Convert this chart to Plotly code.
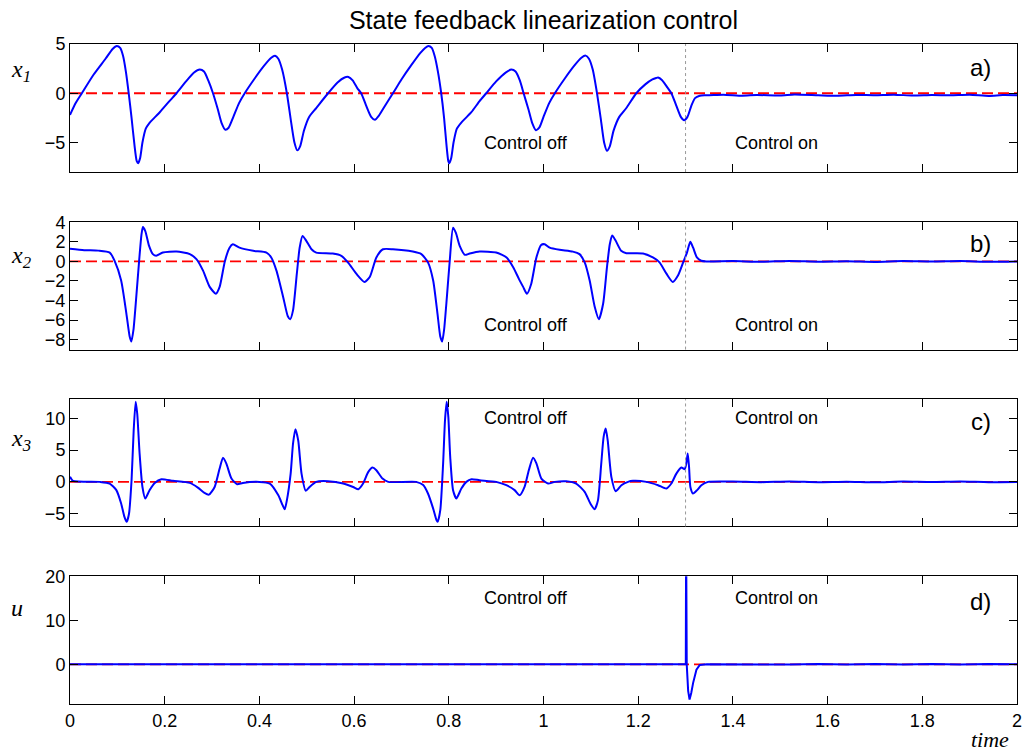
import plotly.graph_objects as go

# ---------------- data ----------------
t_x1 = [0, 0.012, 0.025, 0.05, 0.075, 0.09, 0.099, 0.106, 0.112, 0.118, 0.124, 0.13, 0.136, 0.141, 0.144,
        0.148, 0.153, 0.16, 0.168, 0.178, 0.19, 0.21, 0.225, 0.245, 0.262, 0.274, 0.283, 0.292, 0.302, 0.312,
        0.32, 0.328, 0.335, 0.345, 0.357, 0.369, 0.39, 0.41, 0.425, 0.433, 0.44, 0.448, 0.458, 0.466, 0.474,
        0.48, 0.486, 0.494, 0.505, 0.52, 0.545, 0.565, 0.58, 0.588, 0.597, 0.607, 0.615, 0.625, 0.636, 0.644,
        0.652, 0.665, 0.682, 0.7, 0.72, 0.74, 0.75, 0.757, 0.764, 0.77, 0.777, 0.784, 0.79, 0.795, 0.799,
        0.801, 0.805, 0.81, 0.817, 0.826, 0.836, 0.848, 0.865, 0.879, 0.9, 0.92, 0.932, 0.941, 0.95, 0.958,
        0.968, 0.976, 0.984, 0.991, 1.0, 1.012, 1.024, 1.045, 1.065, 1.08, 1.089, 1.096, 1.104, 1.113, 1.121,
        1.128, 1.134, 1.14, 1.148, 1.16, 1.175, 1.196, 1.215, 1.23, 1.238, 1.242, 1.25, 1.26, 1.27, 1.28,
        1.29, 1.297, 1.304, 1.312, 1.32, 1.33, 1.34, 1.35, 1.38, 1.42, 1.45, 1.5, 1.53, 1.58, 1.62, 1.66,
        1.7, 1.74, 1.78, 1.82, 1.86, 1.9, 1.94, 1.97, 2.0]
x1 = [-2.2, -1.0, 0.0, 1.9, 3.5, 4.5, 4.8, 4.6, 3.8, 2.2, 0.0, -2.5, -5.2, -6.9, -7.1,
      -6.6, -5.0, -3.6, -3.0, -2.5, -1.9, -0.8, 0.0, 1.2, 2.1, 2.4, 2.2, 1.3, 0.0, -1.6,
      -3.0, -3.7, -3.5, -2.4, -1.0, 0.0, 1.5, 2.8, 3.6, 3.8, 3.5, 2.4, 0.0, -2.6, -5.0,
      -5.8, -5.4, -3.8, -2.4, -1.5, 0.0, 1.1, 1.6, 1.65, 1.3, 0.5, 0.0, -1.2, -2.4, -2.7,
      -2.3, -1.3, 0.0, 1.4, 2.8, 4.1, 4.6, 4.8, 4.6, 3.8, 2.2, 0.0, -2.5, -5.2, -6.9,
      -7.1, -6.6, -5.0, -3.6, -3.0, -2.5, -1.9, -0.8, 0.0, 1.2, 2.1, 2.4, 2.2, 1.3, 0.0,
      -1.6, -3.0, -3.75, -3.5, -2.4, -1.0, 0.0, 1.5, 2.8, 3.6, 3.82, 3.5, 2.4, 0.0, -2.6,
      -5.0, -5.84, -5.4, -3.8, -2.4, -1.5, 0.0, 0.9, 1.4, 1.55, 1.6, 1.35, 0.7, 0.0, -1.2,
      -2.4, -2.74, -2.4, -1.3, -0.5, -0.25, -0.2, -0.2, -0.15, -0.25, -0.18, -0.22, -0.12, -0.2, -0.26, -0.17,
      -0.2, -0.14, -0.24, -0.19, -0.21, -0.15, -0.27, -0.18, -0.2]

t_x2 = [0, 0.03, 0.06, 0.084, 0.094, 0.108, 0.119, 0.126, 0.1296, 0.134, 0.14, 0.146, 0.151, 0.154, 0.159,
        0.167, 0.175, 0.182, 0.196, 0.225, 0.253, 0.267, 0.281, 0.295, 0.308, 0.316, 0.327, 0.337, 0.344,
        0.358, 0.387, 0.415, 0.425, 0.436, 0.45, 0.46, 0.465, 0.471, 0.479, 0.485, 0.491, 0.499, 0.51, 0.52,
        0.555, 0.573, 0.587, 0.605, 0.622, 0.633, 0.647, 0.661, 0.682, 0.724, 0.742, 0.756, 0.767, 0.776,
        0.782, 0.786, 0.79, 0.796, 0.802, 0.809, 0.815, 0.823, 0.834, 0.844, 0.865, 0.9, 0.922, 0.936, 0.948,
        0.957, 0.965, 0.974, 0.985, 0.995, 1.0025, 1.013, 1.034, 1.062, 1.076, 1.087, 1.0975, 1.108, 1.117,
        1.126, 1.134, 1.14, 1.145, 1.152, 1.164, 1.175, 1.21, 1.231, 1.245, 1.26, 1.273, 1.284, 1.295, 1.303,
        1.31, 1.316, 1.324, 1.333, 1.344, 1.4, 1.46, 1.52, 1.58, 1.64, 1.7, 1.76, 1.82, 1.88, 1.94, 2.0]
x2 = [1.3, 1.15, 1.1, 0.9, 0.07, -1.95, -5.3, -7.66, -8.17, -7.0, -3.6, 0.07, 2.76, 3.5, 3.1,
      1.58, 0.74, 0.57, 0.9, 1.0, 0.74, 0.24, -0.94, -2.6, -3.3, -2.6, 0.0, 1.4, 1.75,
      1.4, 1.08, 0.9, 0.4, -0.94, -3.6, -5.6, -5.9, -5.0, -1.28, 1.4, 2.6, 2.1, 1.24, 0.9,
      0.8, 0.57, -0.1, -1.28, -2.1, -1.6, 0.4, 1.24, 1.24, 1.0, 0.74, -0.1, -1.95, -5.3,
      -7.66, -8.17, -7.0, -3.6, 0.07, 3.43, 2.9, 1.58, 0.67, 0.8, 1.0, 0.9, 0.4, -0.6, -1.78,
      -2.6, -3.3, -2.3, 0.4, 1.68, 1.75, 1.4, 1.18, 1.0, 0.74, -0.1, -1.95, -4.6, -5.9,
      -4.3, -0.6, 1.75, 2.65, 2.15, 1.08, 0.84, 0.8, 0.4, -0.1, -1.28, -2.1, -1.45, -0.1, 0.9,
      2.0, 1.4, 0.4, 0.07, 0.0, 0.03, -0.04, 0.05, -0.03, 0.02, -0.05, 0.04, -0.02, 0.03, -0.04, 0.0]

t_x3 = [0, 0.0063, 0.0627, 0.0838, 0.0979, 0.108, 0.115, 0.1197, 0.1246, 0.13, 0.1345, 0.1387, 0.142, 0.147,
        0.153, 0.159, 0.168, 0.179, 0.193, 0.2175, 0.253, 0.27, 0.284, 0.2935, 0.3055, 0.316, 0.323, 0.33,
        0.341, 0.353, 0.365, 0.4, 0.422, 0.44, 0.449, 0.4535, 0.458, 0.466, 0.471, 0.476, 0.482, 0.489,
        0.498, 0.506, 0.52, 0.545, 0.577, 0.598, 0.609, 0.619, 0.63, 0.639, 0.647, 0.66, 0.672, 0.731,
        0.746, 0.756, 0.767, 0.774, 0.7765, 0.782, 0.788, 0.792, 0.7955, 0.799, 0.803, 0.809, 0.816, 0.8265,
        0.837, 0.848, 0.865, 0.9, 0.9215, 0.939, 0.9497, 0.96, 0.969, 0.978, 0.985, 0.9955, 1.0096, 1.0237,
        1.048, 1.069, 1.087, 1.099, 1.108, 1.115, 1.122, 1.127, 1.1314, 1.1356, 1.1433, 1.1525, 1.1645,
        1.1785, 1.189, 1.2173, 1.2419, 1.2595, 1.27, 1.2806, 1.2912, 1.2982, 1.3017, 1.3046, 1.3074, 1.3102,
        1.3158, 1.3243, 1.3334, 1.3475, 1.4, 1.46, 1.52, 1.58, 1.64, 1.7, 1.76, 1.82, 1.88, 1.94, 2.0]
x3 = [0.8, 0.16, 0.0, -0.26, -1.3, -3.4, -5.5, -6.28, -5.0, 0.26, 8.1, 12.6, 10.7, 4.45,
      -0.8, -2.6, -1.3, -0.16, 0.42, 0.16, -0.16, -0.9, -1.73, -2.0, -0.8, 2.1, 3.77, 2.9,
      0.52, -0.37, -0.16, 0.0, -0.26, -2.1, -3.66, -4.3, -2.9, 1.3, 6.0, 8.27, 6.5, 1.3,
      -1.4, -0.8, 0.0, 0.1, -0.26, -0.8, -1.15, -0.26, 1.57, 2.25, 1.83, 0.52, 0.0, 0.0,
      -0.5, -1.83, -4.2, -6.0, -6.28, -4.45, 2.9, 9.7, 12.6, 10.2, 3.9, -1.3, -2.6, -1.05,
      0.0, 0.42, 0.26, 0.0, -0.52, -1.3, -2.1, -0.8, 1.83, 3.77, 2.9, 0.52, -0.26, 0.0,
      0.1, -0.26, -1.57, -3.4, -4.3, -2.9, 2.9, 7.07, 8.38, 6.5, 0.79, -1.47, -0.52,
      0.0, 0.16, 0.0, -0.52, -1.05, -0.26, 1.3, 2.25, 2.0, 2.9, 4.45, 2.36, -0.8,
      -1.83, -1.3, -0.52, 0.0, 0.05, -0.04, 0.06, -0.05, 0.03, -0.06, 0.04, -0.03, 0.05, -0.04, 0.0]

t_u = [0, 1.3, 1.3005, 1.3012, 1.3025, 1.3055, 1.3085, 1.312, 1.316, 1.323, 1.33, 1.345,
       1.4, 1.46, 1.52, 1.58, 1.64, 1.7, 1.76, 1.82, 1.88, 1.94, 2.0]
u = [0, 0, 0, 30, 0, -6, -8, -6.5, -4.2, -1.2, -0.15, 0.05,
     0.0, 0.08, -0.05, 0.07, -0.04, 0.06, -0.05, 0.08, -0.03, 0.06, 0.0]

y_ranges = [[-8, 5], [-9, 4], [-7, 13], [-9, 20]]
y_ticks = [[-5, 0, 5], [-8, -6, -4, -2, 0, 2, 4], [-5, 0, 5, 10], [0, 10, 20]]
x_ticks = [0, 0.2, 0.4, 0.6, 0.8, 1, 1.2, 1.4, 1.6, 1.8, 2]
x_ticktext = ["0", "0.2", "0.4", "0.6", "0.8", "1", "1.2", "1.4", "1.6", "1.8", "2"]
panel_letters = ["a)", "b)", "c)", "d)"]
y_labels = ["<i>x</i><sub><i>1</i></sub>", "<i>x</i><sub><i>2</i></sub>",
            "<i>x</i><sub><i>3</i></sub>", "<i>u</i>"]
switch_time = 1.3

# ---------------- layout geometry ----------------
domains = [[0.806, 1.0], [0.537, 0.730], [0.269, 0.462], [0.0, 0.1935]]
ylab_pos = [2.3, 0.4, 6.6, 12.9]
off_pos = [-5.1, -6.5, 10.0, 15.0]
letter_pos = [2.6, 1.8, 9.5, 14.3]
smooth = [True, True, True, False]

series = [(t_x1, x1), (t_x2, x2), (t_x3, x3), (t_u, u)]

fig = go.Figure()
FONT = "Liberation Sans, Arial, sans-serif"
SERIF = "Liberation Serif, Times New Roman, serif"

annotations = []
shapes = []
for i, (tt, yy) in enumerate(series):
    sfx = "" if i == 0 else str(i + 1)
    xa, ya = "x" + sfx, "y" + sfx
    fig.add_trace(go.Scatter(x=[0, 2], y=[0, 0], mode="lines", xaxis=xa, yaxis=ya,
                             line=dict(color="#ff0000", width=1.8, dash="11px,5px"),
                             showlegend=False, hoverinfo="skip"))
    line = dict(color="#0000ff", width=2)
    if smooth[i]:
        line.update(shape="spline", smoothing=0.6)
    fig.add_trace(go.Scatter(x=tt, y=yy, mode="lines", xaxis=xa, yaxis=ya,
                             line=line, showlegend=False))
    last = i == 3
    fig.layout["xaxis" + sfx] = dict(
        domain=[0, 1], anchor=ya, range=[0, 2], tickvals=x_ticks, ticktext=x_ticktext,
        showticklabels=last, ticks="inside", ticklen=8, tickwidth=1, tickcolor="black",
        showline=True, linecolor="black", linewidth=1, mirror="ticks", showgrid=False,
        zeroline=False, automargin=False, tickfont=dict(family=FONT, size=18, color="black"))
    fig.layout["yaxis" + sfx] = dict(
        domain=domains[i], anchor=xa, range=y_ranges[i], tickvals=y_ticks[i],
        ticks="inside", ticklen=8, tickwidth=1, tickcolor="black",
        showline=True, linecolor="black", linewidth=1, mirror="ticks", showgrid=False,
        zeroline=False, automargin=False, tickfont=dict(family=FONT, size=18, color="black"))
    if i < 3:
        shapes.append(dict(type="line", xref=xa, yref=ya + " domain", x0=switch_time, x1=switch_time,
                           y0=0, y1=1, line=dict(color="#999999", width=1, dash="dot")))
    annotations.append(dict(xref="paper", yref=ya, x=-0.064, y=ylab_pos[i], xanchor="left",
                            yanchor="middle", text=y_labels[i], showarrow=False,
                            font=dict(family=SERIF, size=24, color="black")))
    annotations.append(dict(xref=xa, yref=ya, x=0.871, y=off_pos[i], xanchor="left",
                            yanchor="middle", text="Control off", showarrow=False,
                            font=dict(family=FONT, size=18, color="black")))
    annotations.append(dict(xref=xa, yref=ya, x=1.4, y=off_pos[i], xanchor="left",
                            yanchor="middle", text="Control on", showarrow=False,
                            font=dict(family=FONT, size=18, color="black")))
    annotations.append(dict(xref=xa, yref=ya, x=1.923, y=letter_pos[i], xanchor="center",
                            yanchor="middle", text=panel_letters[i], showarrow=False,
                            font=dict(family=FONT, size=24, color="black")))

annotations.append(dict(xref="paper", yref="paper", x=0.994, y=-0.0545, xanchor="right",
                        yanchor="middle", text="<i>time</i>", showarrow=False,
                        font=dict(family=SERIF, size=22, color="black")))

fig.update_layout(
    width=1028, height=752,
    margin=dict(l=70, r=11, t=44, b=48, autoexpand=False),
    paper_bgcolor="white", plot_bgcolor="white",
    title=dict(text="State feedback linearization control", x=0.5, xanchor="center",
               xref="paper", y=1 - 20 / 752, yanchor="middle",
               font=dict(family=FONT, size=25, color="black")),
    annotations=annotations, shapes=shapes, showlegend=False,
)

fig.write_html("out.html", config={"displayModeBar": False},
               post_script="document.body.style.margin='0';document.body.style.overflow='hidden';")
